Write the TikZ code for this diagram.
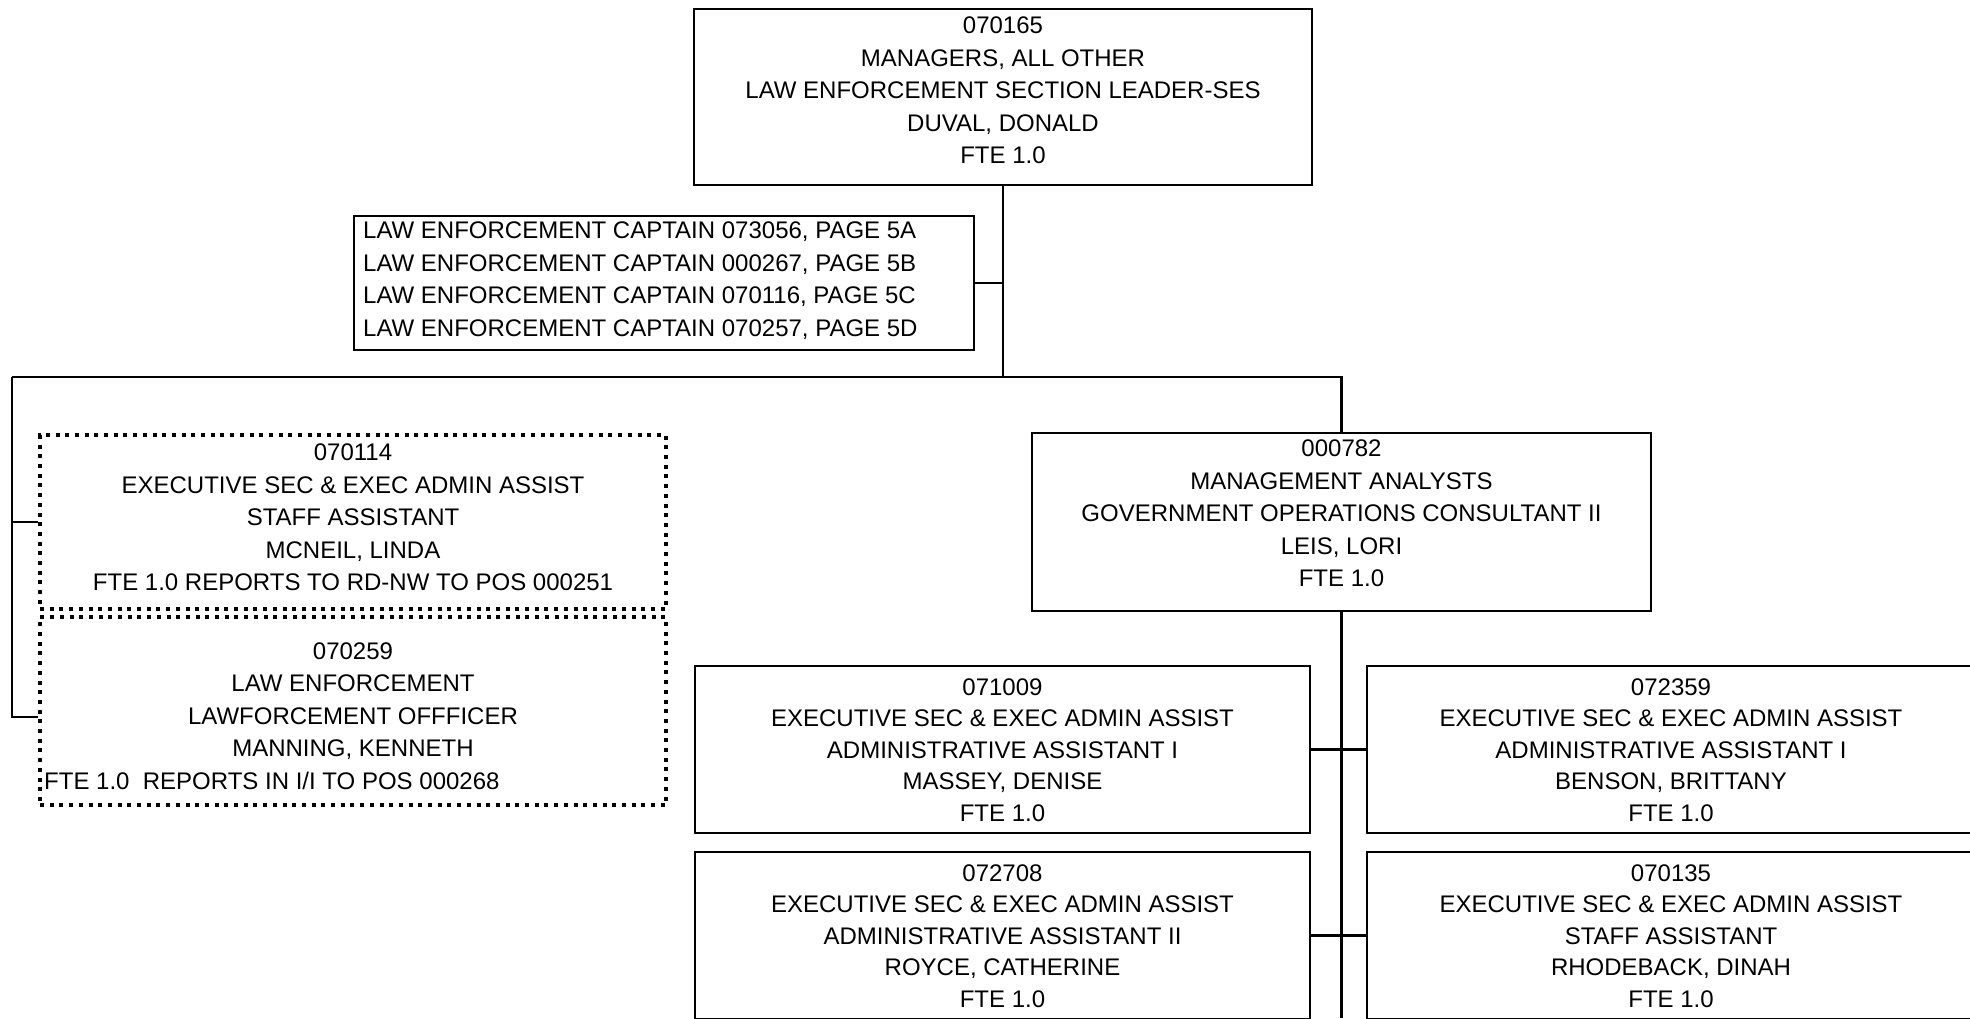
\documentclass[tikz,border=0pt]{standalone}
\usepackage{fontspec}
\setmainfont{Liberation Sans}
\begin{document}
\begin{tikzpicture}[x=1pt,y=-1pt,
  posbox/.style={draw=black, line width=2.3pt, inner sep=0pt},
  dotbox/.style={draw=black, line width=4pt, dash pattern=on 4pt off 5.7pt, inner sep=0pt},
  label5/.style={align=center, inner sep=0pt, font=\fontsize{24}{32.5}\selectfont},
  label5s/.style={align=center, inner sep=0pt, font=\fontsize{24}{31.5}\selectfont},
  labelL/.style={align=left, anchor=west, inner sep=0pt, font=\fontsize{24}{32.5}\selectfont},
  wire/.style={draw=black, line width=2.2pt}]

\useasboundingbox (0,0) rectangle (1970,1018);
\clip (0,0) rectangle (1970,1018);

% position boxes
\node[posbox, minimum width=618pt, minimum height=176pt] (top)  at (1003,97) {};
\node[posbox, minimum width=620pt, minimum height=134pt] (capt) at (664,283) {};
\node[dotbox, minimum width=626pt, minimum height=174pt] (d1)   at (353,522) {};
\node[dotbox, minimum width=626pt, minimum height=188pt] (d2)   at (353,711) {};
\node[posbox, minimum width=619pt, minimum height=178pt] (ma)   at (1341.5,522) {};
\node[posbox, minimum width=615pt, minimum height=167pt] (a1)   at (1002.5,749.5) {};
\node[posbox, minimum width=615pt, minimum height=167pt] (a2)   at (1674.5,749.5) {};
\node[posbox, minimum width=615pt, minimum height=167pt] (a3)   at (1002.5,935.5) {};
\node[posbox, minimum width=615pt, minimum height=167pt] (a4)   at (1674.5,935.5) {};

% box texts
\node[label5] (topT) at (1003,90.5)
  {070165\\MANAGERS, ALL OTHER\\LAW ENFORCEMENT SECTION LEADER-SES\\DUVAL, DONALD\\FTE 1.0};
\node[labelL] (captT) at (363,280.5)
  {LAW ENFORCEMENT CAPTAIN 073056, PAGE 5A\\LAW ENFORCEMENT CAPTAIN 000267, PAGE 5B\\LAW ENFORCEMENT CAPTAIN 070116, PAGE 5C\\LAW ENFORCEMENT CAPTAIN 070257, PAGE 5D};
\node[label5] (d1T) at (353,517.5)
  {070114\\EXECUTIVE SEC \& EXEC ADMIN ASSIST\\STAFF ASSISTANT\\MCNEIL, LINDA\\FTE 1.0 REPORTS TO RD-NW TO POS 000251};
\node[label5] (d2T) at (353,701)
  {070259\\LAW ENFORCEMENT\\LAWFORCEMENT OFFFICER\\MANNING, KENNETH};
\node[labelL] (d2L) at (44,781) {FTE 1.0\ \ REPORTS IN I/I TO POS 000268};
\node[label5] (maT) at (1341.5,513.5)
  {000782\\MANAGEMENT ANALYSTS\\GOVERNMENT OPERATIONS CONSULTANT II\\LEIS, LORI\\FTE 1.0};
\node[label5s] (a1T) at (1002.5,750)
  {071009\\EXECUTIVE SEC \& EXEC ADMIN ASSIST\\ADMINISTRATIVE ASSISTANT I\\MASSEY, DENISE\\FTE 1.0};
\node[label5s] (a2T) at (1671,750)
  {072359\\EXECUTIVE SEC \& EXEC ADMIN ASSIST\\ADMINISTRATIVE ASSISTANT I\\BENSON, BRITTANY\\FTE 1.0};
\node[label5s] (a3T) at (1002.5,936)
  {072708\\EXECUTIVE SEC \& EXEC ADMIN ASSIST\\ADMINISTRATIVE ASSISTANT II\\ROYCE, CATHERINE\\FTE 1.0};
\node[label5s] (a4T) at (1671,936)
  {070135\\EXECUTIVE SEC \& EXEC ADMIN ASSIST\\STAFF ASSISTANT\\RHODEBACK, DINAH\\FTE 1.0};

% connector points
\coordinate (busL) at (12,377);
\coordinate (maEnd) at (1341.5,1018);

% connectors
\draw[wire] (top.south) -- (top.south |- busL);
\draw[wire] (capt.east) -- (capt.east -| top.south);
\draw[wire] (busL) -- (busL -| ma.north) -- (ma.north);
\draw[wire] (busL) |- ([yshift=-6pt]d2.west);
\draw[wire] (d1.west) -- (d1.west -| busL);
\draw[wire] (ma.south) -- (maEnd);
\draw[wire] (a1.east) -- (a2.west);
\draw[wire] (a3.east) -- (a4.west);
\end{tikzpicture}
\end{document}
